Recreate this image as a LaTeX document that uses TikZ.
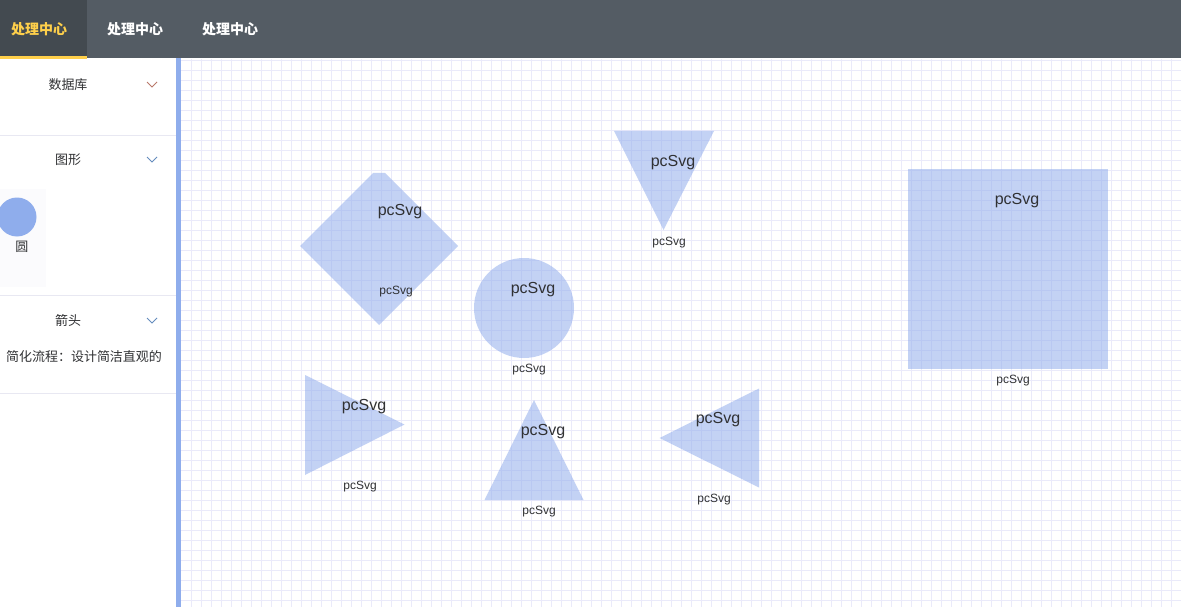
\documentclass[tikz,border=0pt]{standalone}
\usepackage{fontspec}
\setmainfont{Liberation Sans}
\newfontfamily\cjk{Noto Sans CJK SC}
\definecolor{barcol}{RGB}{84,92,100}
\definecolor{tabcol}{RGB}{67,74,80}
\definecolor{tabyellow}{RGB}{255,208,75}
\definecolor{sidebar}{RGB}{143,173,236}
\definecolor{gridcol}{RGB}{234,234,250}
\definecolor{svgblue}{RGB}{137,167,235}
\definecolor{sepcol}{RGB}{232,232,242}
\definecolor{txt}{RGB}{48,49,51}
\definecolor{chevred}{RGB}{185,120,105}
\definecolor{chevblue}{RGB}{100,140,190}
\definecolor{itembox}{RGB}{251,251,253}

\begin{document}
\begin{tikzpicture}[x=1pt, y=-1pt,
  tab/.style = {font=\cjk\bfseries\fontsize{14}{14}\selectfont, text=white},
  menu/.style = {font=\cjk\fontsize{13}{13}\selectfont, text=txt, yshift=-1pt},
  big/.style = {font=\fontsize{16}{16}\selectfont, text=txt, yshift=-2pt},
  small/.style = {font=\fontsize{12}{12}\selectfont, text=txt, yshift=-2pt},
  svgfill/.style = {fill=svgblue, fill opacity=0.5},
  chev/.style = {draw=#1, line width=0.8pt}]
\useasboundingbox (0,0) rectangle (1181,607);
\fill[white] (0,0) rectangle (1181,607);

% canvas grid
\foreach \x in {191,201,...,1181} \draw[gridcol] (\x,59) -- (\x,607);
\foreach \y in {60,70,...,600} \draw[gridcol] (181,\y) -- (1181,\y);

% top bar
\fill[barcol] (0,0) rectangle (1181,58);
\fill[tabcol] (0,0) rectangle (87,58);
\fill[tabyellow] (0,56.5) rectangle (87,59);
\node[tab, text=tabyellow] (tab1) at (39,29) {处理中心};
\node[tab] (tab2) at (135,29) {处理中心};
\node[tab] (tab3) at (230,29) {处理中心};

% side menu
\fill[sidebar] (176,58) rectangle (181,607);
\draw[sepcol] (0,135) -- (176,135);
\draw[sepcol] (0,295) -- (176,295);
\draw[sepcol] (0,393) -- (176,393);
\node[menu] (db) at (68,84) {数据库};
\draw[chev=chevred] (147,82) -- (152,87) -- (157,82);
\node[menu] (graph) at (68,159) {图形};
\draw[chev=chevblue] (147,157) -- (152,162) -- (157,157);
\fill[itembox] (0,189) rectangle (46,287);
\fill[sidebar] (17,217) circle (19.5);
\node[menu] (circ) at (22,246) {圆};
\node[menu] (arrow) at (68,319) {箭头};
\draw[chev=chevblue] (147,318) -- (152,323) -- (157,318);
\node[menu] (note) at (84,356) {简化流程：设计简洁直观的};

% shapes
\fill[svgfill] (300,246) -- (373,173) -- (385,173) -- (458,246) -- (379,325) -- cycle;
\node[big] (d1) at (400,210) {pcSvg};
\node[small] (d2) at (396,290) {pcSvg};

\fill[svgfill] (524,308) circle (50);
\node[big] (c1) at (533,288) {pcSvg};
\node[small] (c2) at (529,368) {pcSvg};

\fill[svgfill] (614,131) -- (714,131) -- (663.5,230) -- cycle;
\node[big] (t1) at (673,161) {pcSvg};
\node[small] (t2) at (669,241) {pcSvg};

\fill[svgfill] (908,169) rectangle (1108,369);
\node[big] (s1) at (1017,199) {pcSvg};
\node[small] (s2) at (1013,379) {pcSvg};

\fill[svgfill] (305,375) -- (404.5,424.5) -- (305,475) -- cycle;
\node[big] (r1) at (364,405) {pcSvg};
\node[small] (r2) at (360,485) {pcSvg};

\fill[svgfill] (534,400) -- (583.5,500) -- (484.5,500) -- cycle;
\node[big] (u1) at (543,430) {pcSvg};
\node[small] (u2) at (539,510) {pcSvg};

\fill[svgfill] (659.5,438) -- (759,388.5) -- (759,487.5) -- cycle;
\node[big] (l1) at (718,418) {pcSvg};
\node[small] (l2) at (714,498) {pcSvg};

\end{tikzpicture}
\end{document}
